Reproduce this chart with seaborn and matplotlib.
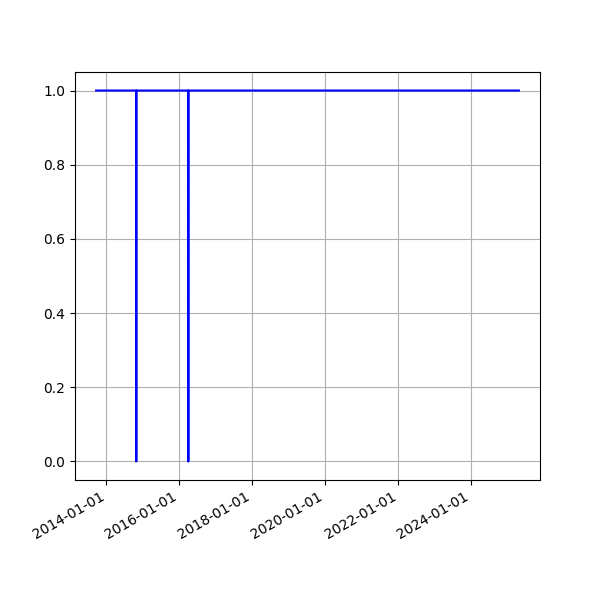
import pandas as pd
import matplotlib
matplotlib.use("Agg")
import matplotlib.pyplot as plt
import matplotlib.dates as mdates
import seaborn as sns

dates = ["2013-09-20", "2014-10-26", "2014-10-27", "2014-10-28",
         "2016-03-30", "2016-03-31", "2016-04-01", "2025-04-22"]
values = [1, 1, 0, 1, 1, 0, 1, 1]

df = pd.DataFrame({"date": pd.to_datetime(dates), "value": values})

fig, ax = plt.subplots(figsize=(6, 6), dpi=100)
sns.lineplot(data=df, x="date", y="value", color="blue", linewidth=1.5,
             estimator=None, ax=ax)
ax.set_xlabel("")
ax.set_ylabel("")
ax.xaxis.set_major_locator(mdates.YearLocator(2))
ax.xaxis.set_major_formatter(mdates.DateFormatter("%Y-%m-%d"))
ax.grid(True)
fig.autofmt_xdate()
plt.savefig("out.png", dpi=100)
